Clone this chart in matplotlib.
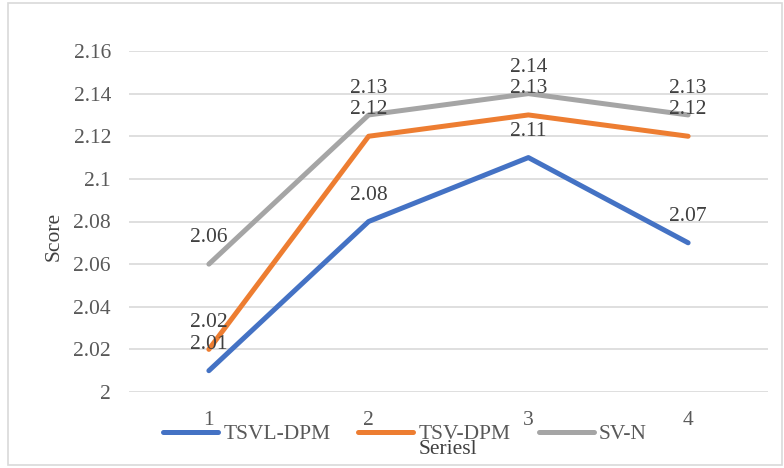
import matplotlib
matplotlib.use("Agg")
import matplotlib.pyplot as plt
from matplotlib.patches import Rectangle

# data
categories = [1, 2, 3, 4]
tsvl_dpm = [2.01, 2.08, 2.11, 2.07]
tsv_dpm = [2.02, 2.12, 2.13, 2.12]
sv_n = [2.06, 2.13, 2.14, 2.13]
series_names = ["TSVL-DPM", "TSV-DPM", "SV-N"]
yticks = [2, 2.02, 2.04, 2.06, 2.08, 2.1, 2.12, 2.14, 2.16]
ytick_labels = ["2", "2.02", "2.04", "2.06", "2.08", "2.1", "2.12", "2.14", "2.16"]

colors = ["#4472C4", "#ED7D31", "#A5A5A5"]

plt.rcParams["font.family"] = ["Liberation Serif", "DejaVu Serif"]
fs = 15.5

W, H = 784, 468
fig = plt.figure(figsize=(W / 100, H / 100), dpi=100)

# outer frame like the Excel chart area
fig.patches.append(Rectangle((8 / W, 3 / H), (782 - 8) / W, (465 - 3) / H,
                             transform=fig.transFigure, fill=False,
                             edgecolor="#D9D9D9", linewidth=1.2))

left, right, top, bottom = 129, 768, 51, 392
ax = fig.add_axes([left / W, 1 - bottom / H, (right - left) / W, (bottom - top) / H])

handles = []
for vals, c, name in zip([tsvl_dpm, tsv_dpm, sv_n], colors, series_names):
    h, = ax.plot(categories, vals, color=c, linewidth=3.6,
                 solid_capstyle="round", solid_joinstyle="round", label=name)
    handles.append(h)
    for x, y in zip(categories, vals):
        ax.annotate(f"{y:g}", (x, y), xytext=(0, 19), textcoords="offset points",
                    ha="center", va="center", fontsize=fs, color="#404040")

ax.set_xlim(0.5, 4.5)
ax.set_ylim(2, 2.16)
ax.set_yticks(yticks)
ax.set_yticklabels(ytick_labels)
ax.set_xticks(categories)
ax.set_xticklabels([str(c) for c in categories])
ax.tick_params(axis="both", length=0, labelsize=fs, labelcolor="#595959")
ax.tick_params(axis="y", pad=13)
ax.tick_params(axis="x", pad=14)
ax.grid(axis="y", color="#D9D9D9", linewidth=1.2)
ax.set_axisbelow(True)
for s in ax.spines.values():
    s.set_visible(False)

fig.text(54 / W, 1 - 236 / H, "Score", rotation=90, ha="center", va="center",
         fontsize=fs, color="#404040")

fig.legend(handles=handles, loc="center", bbox_to_anchor=(405 / W, 1 - 434 / H),
           ncol=3, frameon=False, fontsize=fs, handlelength=2.55,
           handletextpad=0.25, columnspacing=1.3, labelcolor="#595959")

fig.text(448 / W, 1 - 450 / H, "Seriesl", ha="center", va="center",
         fontsize=fs, color="#404040")

fig.savefig("out.png", dpi=100)
